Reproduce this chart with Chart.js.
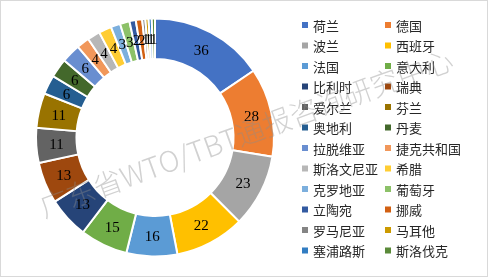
<!DOCTYPE html>
<html>
<head>
<meta charset="utf-8">
<script src="https://cdn.jsdelivr.net/npm/chart.js@4/dist/chart.umd.min.js"></script>
<style>
  html, body { margin: 0; padding: 0; background: #fff; }
  #wrap { position: relative; width: 488px; height: 277px; box-sizing: border-box; border: 1px solid #d9d9d9; }
  #chart { position: absolute; left: -1px; top: -1px; }
</style>
</head>
<body>
<div id="wrap"><canvas id="chart" width="488" height="277"></canvas></div>
<script>
// data
const countries = ["荷兰","德国","波兰","西班牙","法国","意大利","比利时","瑞典","爱尔兰","芬兰","奥地利","丹麦",
  "拉脱维亚","捷克共和国","斯洛文尼亚","希腊","克罗地亚","葡萄牙","立陶宛","挪威","罗马尼亚","马耳他","塞浦路斯","斯洛伐克"];
const counts = [36,28,23,22,16,15,13,13,11,11,6,6,6,4,4,4,3,3,2,2,1,1,1,1];
const colors = ["#4472C4","#ED7D31","#A5A5A5","#FFC000","#5B9BD5","#70AD47","#264478","#9E480E","#636363","#997300","#255E91","#43682B",
  "#698ED0","#F1975A","#B7B7B7","#FFCD33","#7CAFDD","#8CC168","#335AA1","#D26012","#848484","#CC9A00","#327DC2","#5A8A39"];
const watermark = "广东省WTO/TBT通报咨询研究中心";

// numbers in the middle of each slice
const sliceLabels = {
  id: 'sliceLabels',
  afterDatasetsDraw(chart) {
    const ctx = chart.ctx;
    const meta = chart.getDatasetMeta(0);
    ctx.save();
    ctx.font = "15px 'Liberation Serif', 'Times New Roman', serif";
    ctx.fillStyle = "#000";
    ctx.textAlign = "center";
    ctx.textBaseline = "middle";
    meta.data.forEach((arc, i) => {
      const p = arc.tooltipPosition();
      ctx.fillText(String(counts[i]), p.x, p.y + 1);
    });
    ctx.restore();
  }
};

// two column legend, row by row, plus the watermark
const sideLegend = {
  id: 'sideLegend',
  afterDraw(chart) {
    const ctx = chart.ctx;
    ctx.save();
    ctx.font = "13px 'Noto Sans CJK SC', sans-serif";
    ctx.textBaseline = "middle";
    countries.forEach((name, i) => {
      const col = i % 2, row = Math.floor(i / 2);
      const x = col === 0 ? 302 : 385;
      const y = 25 + row * 20.5;
      ctx.fillStyle = colors[i];
      ctx.fillRect(x, y - 3, 6, 6);
      ctx.fillStyle = "#262626";
      ctx.fillText(name, x + 11, y + 1);
    });

    ctx.font = "300 30px 'Noto Sans CJK SC', sans-serif";
    let size = 30 * 438 / ctx.measureText(watermark).width;
    ctx.font = "300 " + size.toFixed(1) + "px 'Noto Sans CJK SC', sans-serif";
    ctx.translate(246, 133);
    ctx.rotate(-20 * Math.PI / 180);
    ctx.fillStyle = "rgba(140,140,140,0.4)";
    ctx.textAlign = "center";
    ctx.textBaseline = "middle";
    ctx.fillText(watermark, 0, 0);
    ctx.restore();
  }
};

new Chart(document.getElementById('chart'), {
  type: 'doughnut',
  data: {
    labels: countries,
    datasets: [{
      data: counts,
      backgroundColor: colors,
      borderColor: '#ffffff',
      borderWidth: 2
    }]
  },
  options: {
    responsive: false,
    animation: false,
    cutout: '66%',
    layout: { padding: { left: 35, top: 17, right: 213, bottom: 19 } },
    plugins: {
      legend: { display: false },
      tooltip: { enabled: false }
    }
  },
  plugins: [sliceLabels, sideLegend]
});
</script>
</body>
</html>
